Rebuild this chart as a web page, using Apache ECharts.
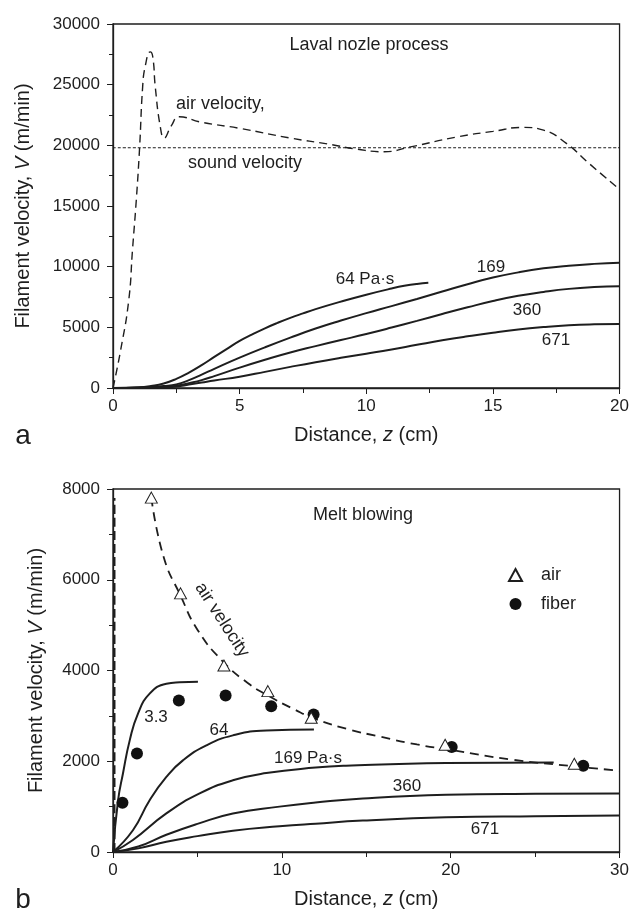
<!DOCTYPE html>
<html>
<head>
<meta charset="utf-8">
<script src="https://cdn.jsdelivr.net/npm/echarts@6/dist/echarts.min.js"></script>
<style>
html,body{margin:0;padding:0;background:#fff;}
#main{width:632px;height:913px;}
</style>
</head>
<body>
<div id="main"></div>
<script>
// ---- panel a : Laval nozzle process (z in cm, V in m/min)
var airA = [[0,0],[0.3,3100],[0.62,7200],[0.77,11400],[0.92,15500],[1.05,19800],[1.17,24800],[1.27,26500],
	[1.47,27700],[1.57,27300],[1.67,24800],[1.87,21500],[2.02,20600],[2.3,21600],[2.61,22350],[3.5,21900],
	[5,21400],[7,20600],[8.5,20100],[9.6,19700],[10.7,19470],[11.7,19850],[13.6,20700],[15,21150],
	[16.2,21480],[17,21250],[17.9,20160],[18.8,18500],[20,16370]];
var soundA = [[0,19800],[20,19800]];
var a64 = [[0,0],[1,60],[1.5,170],[2,370],[2.5,750],[3,1270],[3.5,1880],[4,2560],[4.5,3230],[5,3890],
	[5.5,4420],[6,4920],[6.5,5370],[7,5780],[7.5,6150],[8,6500],[9,7120],[10,7690],[11,8200],[11.5,8420],
	[12,8580],[12.45,8670]];
var a169 = [[0,0],[1,30],[1.5,80],[2,160],[2.5,300],[3,650],[3.5,1100],[4,1580],[5,2500],[6,3350],[7,4150],
	[8,4900],[9,5560],[10,6170],[11,6750],[12,7340],[13,7950],[14,8550],[15,9100],[16,9530],[17,9860],
	[18,10080],[19,10230],[20,10330]];
var a360 = [[0,0],[1,20],[2,100],[2.5,180],[3,400],[3.5,650],[4,980],[5,1680],[6,2330],[7,2930],[8,3450],
	[9,3950],[10,4450],[11,4980],[12,5530],[13,6100],[14,6650],[15,7170],[16,7600],[17,7920],[18,8170],
	[19,8320],[20,8390]];
var a671 = [[0,0],[1,10],[2,60],[2.5,120],[3,280],[3.5,450],[4,620],[5,930],[6,1330],[7,1740],[8,2130],
	[9,2490],[10,2830],[11,3180],[12,3560],[13,3930],[14,4260],[15,4560],[16,4820],[17,5020],[18,5170],
	[19,5250],[20,5280]];

// ---- panel b : melt blowing
var airB = [[2.27,7810],[3,6500],[4,5650],[5,4900],[6.5,4200],[8,3720],[9.17,3450],[10.65,3160],[12,2930],
	[14,2700],[15.78,2545],[18,2370],[20,2250],[23.67,2033],[27,1900],[30,1791]];
var airEdgeB = [[0.1,0],[0.1,7800]];
var airPts = [[2.27,7810],[4.0,5700],[6.57,4110],[9.17,3545],[11.74,2960],[19.67,2363],[27.32,1945]];
var fiberPts = [[0.56,1085],[1.42,2170],[3.9,3340],[6.67,3450],[9.37,3210],[11.88,3030],[20.06,2312],[27.85,1901]];
var b33 = [[0,0],[0.3,1140],[0.59,1730],[0.99,2460],[1.48,3050],[2.17,3490],[3.16,3710],[3.95,3740],[5.03,3750]];
var b64 = [[0,0],[1.18,480],[2.17,1140],[3.16,1655],[4.14,2020],[5.53,2350],[7.1,2570],[9.08,2680],[11.9,2700]];
var b169 = [[0,0],[1.18,264],[3.16,850],[5.13,1290],[7.1,1580],[9.08,1740],[12,1860],[13.8,1901],[19.73,1960],[26.1,1974]];
var b360 = [[0,0],[1.5,120],[3.16,380],[5,620],[7.1,850],[9.86,1000],[12,1090],[14.8,1180],[19.73,1260],[25,1283],[30,1290]];
var b671 = [[0,0],[1.5,80],[3.16,226],[5,350],[7.1,470],[9.86,567],[12,625],[14.8,692],[19.73,765],[25,790],[30,802]];

var ink = '#1e1e1e';
var font = "'Liberation Sans', Arial, sans-serif";

var myChart = echarts.init(document.getElementById('main'), null, {renderer: 'canvas'});

function solid(data, xi){
	return {type:'line', xAxisIndex:xi, yAxisIndex:xi, data:data, showSymbol:false, smooth:0.5,
		lineStyle:{color:ink, width:2}, silent:true, z:3};
}
function dashed(data, xi, dash, w){
	return {type:'line', xAxisIndex:xi, yAxisIndex:xi, data:data, showSymbol:false, smooth:0.5,
		lineStyle:{color:ink, width:w, type:dash}, silent:true, z:2};
}
function plain(v){ return String(v); }
function xAx(idx, max, interval){
	return {type:'value', gridIndex:idx, min:0, max:max, interval:interval,
		name:'Distance, {i|z} (cm)', nameLocation:'middle', nameGap:37,
		nameTextStyle:{color:ink, fontSize:20, fontFamily:font, rich:{i:{fontStyle:'italic', fontSize:20, color:ink, fontFamily:font}}},
		axisLine:{lineStyle:{color:ink, width:1.3}},
		axisTick:{inside:false, length:6, lineStyle:{color:ink}},
		minorTick:{show:true, splitNumber:2, length:5, lineStyle:{color:ink}},
		axisLabel:{color:ink, fontSize:17, margin:10, fontFamily:font, formatter:plain},
		splitLine:{show:false}};
}
function yAx(idx, max, interval, gap){
	return {type:'value', gridIndex:idx, min:0, max:max, interval:interval,
		name:'Filament velocity, {i|V} (m/min)', nameLocation:'middle', nameGap:gap,
		nameTextStyle:{color:ink, fontSize:20, fontFamily:font, rich:{i:{fontStyle:'italic', fontSize:20, color:ink, fontFamily:font}}},
		axisLine:{lineStyle:{color:ink, width:1.3}},
		axisTick:{inside:false, length:6, lineStyle:{color:ink}},
		minorTick:{show:true, splitNumber:2, length:4, lineStyle:{color:ink}},
		axisLabel:{color:ink, fontSize:17, margin:13, fontFamily:font, formatter:plain},
		splitLine:{show:false}};
}
function txt(s, x, y, size, align, rot){
	return {type:'text', x:x, y:y, rotation:rot || 0, silent:true, z:10,
		style:{text:s, fill:ink, font:size + 'px ' + font, fontSize:size, fontFamily:font,
			align:align || 'center', textAlign:align || 'center', verticalAlign:'middle', textVerticalAlign:'middle'}};
}

var option = {
	backgroundColor:'#fff',
	animation:false,
	textStyle:{fontFamily:font},
	grid:[
		{left:113, right:12, top:24, height:364, show:true, borderColor:ink, borderWidth:1.3, backgroundColor:'transparent'},
		{left:113, right:12, top:489, height:363, show:true, borderColor:ink, borderWidth:1.3, backgroundColor:'transparent'}
	],
	xAxis:[xAx(0, 20, 5), xAx(1, 30, 10)],
	yAxis:[yAx(0, 30000, 5000, 80), yAx(1, 8000, 2000, 67)],
	legend:{data:['air','fiber'], orient:'vertical', left:503, top:561, itemWidth:13, itemHeight:12, itemGap:11,
		textStyle:{color:ink, fontSize:18, fontFamily:font, padding:[0,0,0,14]}},
	series:[
		dashed(airA, 0, [8,5], 1.4),
		dashed(soundA, 0, [3,2], 1.2),
		solid(a64, 0), solid(a169, 0), solid(a360, 0), solid(a671, 0),
		dashed(airB, 1, [9,6], 1.8),
		dashed(airEdgeB, 1, [9,4], 1.6),
		solid(b33, 1), solid(b64, 1), solid(b169, 1), solid(b360, 1), solid(b671, 1),
		{name:'fiber', type:'scatter', xAxisIndex:1, yAxisIndex:1, data:fiberPts, symbol:'circle', symbolSize:12,
			itemStyle:{color:'#111', opacity:1}, z:4},
		{name:'air', type:'scatter', xAxisIndex:1, yAxisIndex:1, data:airPts, symbol:'triangle', symbolSize:[12,11],
			itemStyle:{color:'#fff', borderColor:ink, borderWidth:1, opacity:1}, z:5}
	],
	graphic:[
		txt('Laval nozle process', 369, 45, 18),
		txt('air velocity,', 176, 104, 18, 'left'),
		txt('sound velocity', 188, 163, 18, 'left'),
		txt('64 Pa\u00b7s', 365, 279, 17),
		txt('169', 491, 267, 17),
		txt('360', 527, 310, 17),
		txt('671', 556, 340, 17),
		txt('a', 23, 436, 28),
		txt('Melt blowing', 363, 515, 18),
		txt('air velocity', 222, 620, 18, 'center', -57 * Math.PI / 180),
		txt('3.3', 156, 717, 17),
		txt('64', 219, 730, 17),
		txt('169 Pa\u00b7s', 308, 758, 17),
		txt('360', 407, 786, 17),
		txt('671', 485, 829, 17),
		txt('b', 23, 900, 28)
	]
};

myChart.setOption(option);
</script>
</body>
</html>
